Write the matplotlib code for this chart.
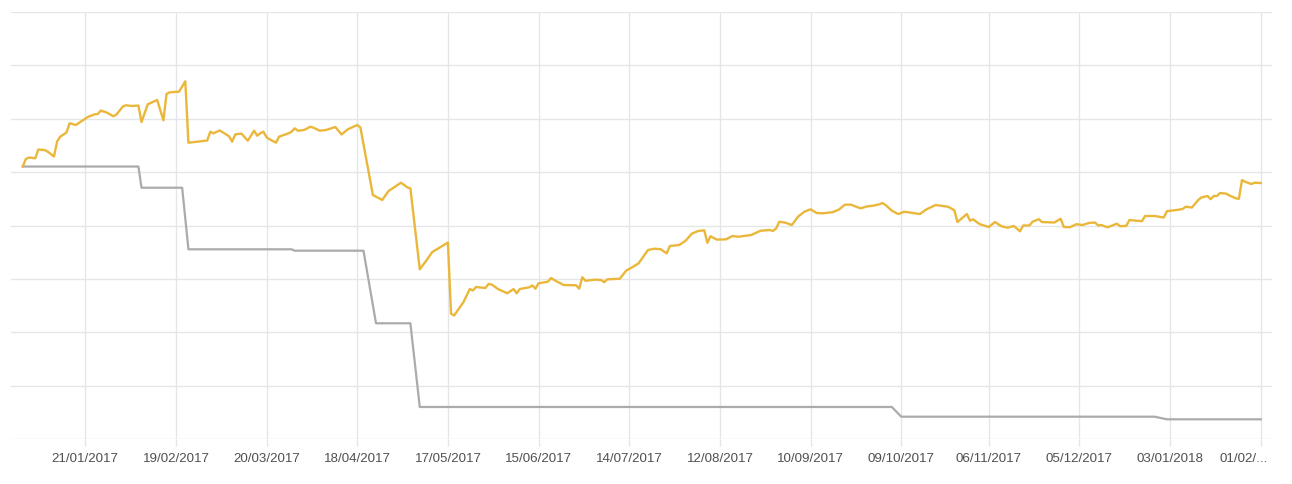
import matplotlib
matplotlib.use("Agg")
import matplotlib.pyplot as plt
import matplotlib.transforms as mtransforms
import pandas as pd

start = pd.Timestamp("2017-01-01")

# yellow series: day offset from 01/01/2017, value
yellow_days = [
    0, 1, 2, 4, 5, 7, 8, 10, 11, 12, 14, 15, 17, 19, 21, 23, 24, 25, 27, 29,
    30, 32, 33, 35, 37, 38, 40, 43, 45, 46, 47, 50, 52, 53, 59, 60, 61, 63, 64, 66,
    67, 68, 70, 72, 74, 75, 76, 77, 78, 79, 81, 82, 85, 86, 87, 88, 90, 92, 93, 95,
    97, 100, 102, 104, 107, 108, 112, 115, 117, 121, 123, 124, 127, 129, 131, 133, 136, 137, 138, 139,
    140, 141, 143, 144, 145, 148, 149, 150, 152, 155, 157, 158, 159, 162, 163, 164, 165, 168, 169, 170,
    173, 177, 178, 179, 180, 183, 185, 186, 187, 191, 193, 195, 197, 200, 202, 204, 206, 207, 210, 212,
    214, 216, 218, 219, 220, 222, 225, 227, 229, 233, 236, 239, 240, 241, 242, 244, 246, 248, 250, 252,
    254, 256, 259, 261, 263, 265, 266, 268, 270, 272, 274, 275, 276, 278, 280, 282, 284, 287, 289, 292,
    296, 298, 299, 302, 303, 304, 306, 309, 311, 313, 315, 317, 319, 320, 322, 323, 325, 326, 330, 332,
    333, 335, 337, 339, 341, 343, 344, 345, 347, 350, 351, 353, 354, 356, 358, 359, 362, 365, 366, 369,
    371, 372, 374, 376, 377, 379, 380, 381, 382, 383, 385, 386, 388, 389, 390, 391, 393, 394, 396,
]
yellow_vals = [
    51.05, 52.46, 52.74, 52.59, 54.24, 54.14, 53.83, 52.93, 55.74, 56.64, 57.42, 59.15, 58.83, 59.63, 60.38, 60.83, 60.89, 61.54, 61.13, 60.46,
    60.80, 62.29, 62.52, 62.39, 62.48, 59.39, 62.72, 63.51, 59.71, 64.64, 64.95, 65.07, 67.02, 55.51, 55.92, 57.57, 57.27, 57.80, 57.46, 56.71,
    55.70, 57.09, 57.20, 55.89, 57.76, 56.82, 57.27, 57.57, 56.52, 56.15, 55.51, 56.64, 57.27, 57.57, 58.21, 57.76, 57.89, 58.51, 58.32, 57.76,
    57.89, 58.45, 57.05, 58.02, 58.83, 58.40, 45.71, 44.78, 46.46, 48.02, 47.16, 46.97, 31.79, 33.35, 35.03, 35.73, 36.81, 23.47, 23.14, 23.98,
    24.82, 25.67, 28.10, 27.82, 28.48, 28.29, 29.04, 28.95, 28.10, 27.30, 28.10, 27.30, 28.10, 28.42, 28.76, 28.16, 29.17, 29.47, 30.16, 29.79,
    28.85, 28.80, 28.16, 30.31, 29.64, 29.85, 29.79, 29.38, 29.92, 30.03, 31.53, 32.19, 32.92, 35.41, 35.65, 35.56, 34.79, 36.16, 36.35, 37.13,
    38.46, 38.97, 39.10, 36.76, 37.98, 37.36, 37.41, 38.03, 37.90, 38.22, 39.02, 39.16, 38.97, 39.47, 40.71, 40.52, 40.09, 41.65, 42.58, 43.03,
    42.34, 42.29, 42.49, 42.96, 43.90, 43.90, 43.65, 43.22, 43.56, 43.71, 43.97, 44.21, 43.84, 42.77, 42.15, 42.58, 42.40, 42.15, 43.00, 43.84,
    43.52, 42.85, 40.65, 42.15, 40.90, 41.16, 40.28, 39.72, 40.65, 39.87, 39.59, 39.91, 38.91, 40.00, 40.00, 40.71, 41.18, 40.65, 40.56, 41.27,
    39.72, 39.68, 40.24, 40.09, 40.47, 40.56, 40.00, 40.09, 39.66, 40.34, 39.87, 39.94, 41.03, 40.90, 40.81, 41.78, 41.78, 41.50, 42.68, 42.90,
    43.09, 43.52, 43.37, 44.78, 45.25, 45.53, 44.93, 45.53, 45.53, 46.09, 45.96, 45.62, 45.10, 45.00, 48.52, 48.19, 47.77, 48.02, 47.96,
]

# gray series (step-like)
gray_days = [0, 37, 38, 51, 53, 86, 87, 109, 113, 124, 127, 278, 281, 362, 366, 396]
gray_vals = [51.05, 51.05, 47.08, 47.08, 35.54, 35.54, 35.28, 35.28, 21.68, 21.68,
             6.00, 6.00, 4.18, 4.18, 3.69, 3.69]

tick_days = [20, 49, 78, 107, 136, 165, 194, 223, 252, 281, 309, 338, 367, 396]
tick_labels = ["21/01/2017", "19/02/2017", "20/03/2017", "18/04/2017", "17/05/2017",
               "15/06/2017", "14/07/2017", "12/08/2017", "10/09/2017", "09/10/2017",
               "06/11/2017", "05/12/2017", "03/01/2018", "01/02/..."]

yellow_x = start + pd.to_timedelta(yellow_days, unit="D")
gray_x = start + pd.to_timedelta(gray_days, unit="D")
tick_x = start + pd.to_timedelta(tick_days, unit="D")

grid_col = "#e4e6ea"

fig = plt.figure(figsize=(12.92, 4.84), dpi=100)
ax = fig.add_axes([11 / 1292, 45 / 484, 1261 / 1292, 427 / 484])

ax.plot(gray_x, gray_vals, color="#ababab", lw=1.6, zorder=3)
ax.plot(yellow_x, yellow_vals, color="#eab73a", lw=1.7, zorder=4)

ax.set_xlim(start - pd.Timedelta(days=3.75), start + pd.Timedelta(days=399.6))
ax.set_ylim(0, 80)
ax.set_yticks(range(0, 81, 10))
ax.set_yticklabels([])
ax.tick_params(axis="y", length=0)

ax.set_xticks(tick_x)
ax.set_xticklabels(tick_labels, family="Liberation Sans", fontsize=9.6, color="#505050")
ax.tick_params(axis="x", length=5, color=grid_col, width=1, pad=5)

# last label is cut off and shifted left in the original
last = ax.get_xticklabels()[-1]
last.set_transform(last.get_transform() + mtransforms.ScaledTranslation(-0.17, 0, fig.dpi_scale_trans))

ax.grid(True, color=grid_col, lw=1)
for s in ax.spines.values():
    s.set_visible(False)
ax.set_axisbelow(True)

fig.savefig("out.png", dpi=100)
